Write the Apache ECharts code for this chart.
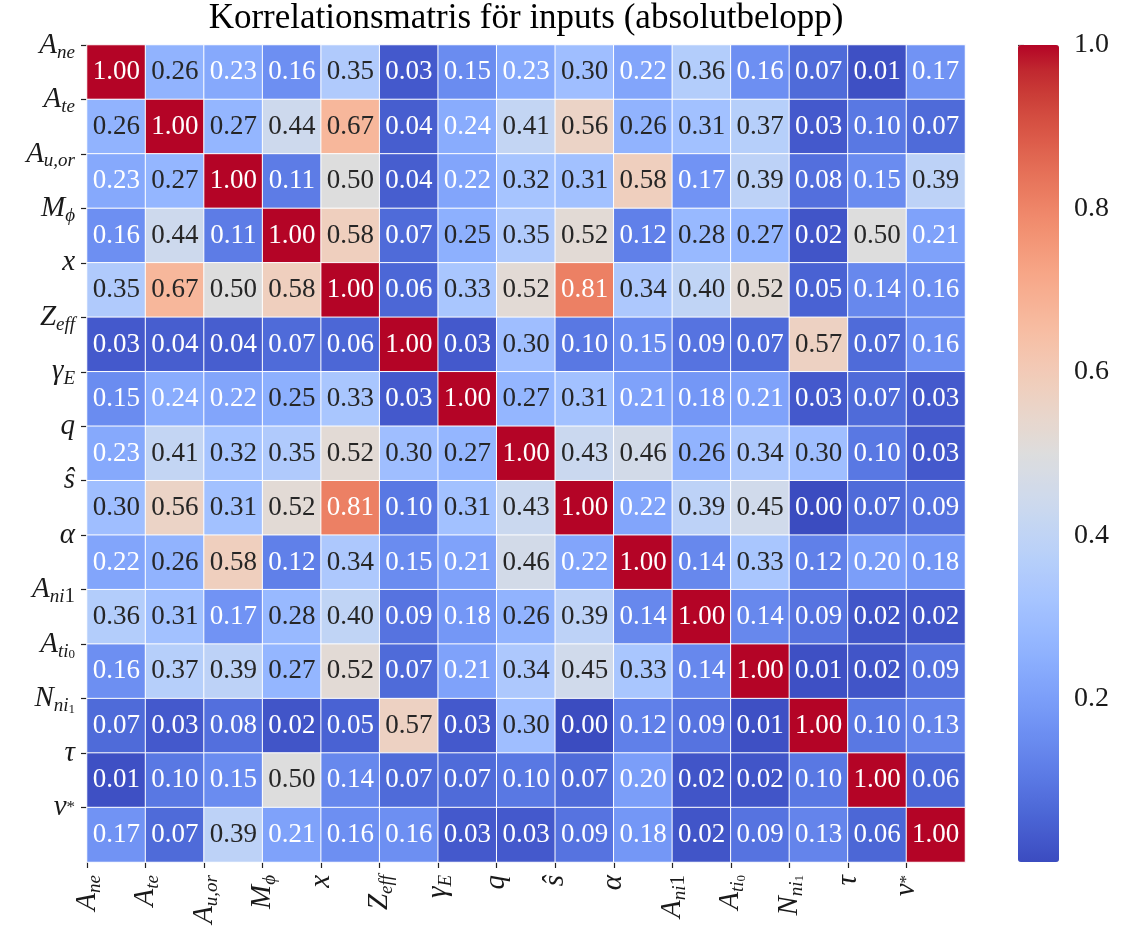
<!DOCTYPE html>
<html>
<head>
<meta charset="utf-8">
<script src="https://cdn.jsdelivr.net/npm/echarts@6/dist/echarts.min.js"></script>
<style>
html,body{margin:0;padding:0;background:#fff;}
#chart{width:1121px;height:937px;}
</style>
</head>
<body>
<div id="chart"></div>
<script>
// Variable tick labels (rich text: m = main symbol, s = subscript, ss = sub-subscript, su = upright subscript, sp = star)
const varLabels = [
  '{m|A}{s|ne}',
  '{m|A}{s|te}',
  '{m|A}{s|u,or}',
  '{m|M}{s|ϕ}',
  '{m|x}',
  '{m|Z}{s|eff}',
  '{m|γ}{s|E}',
  '{m|q}',
  '{m|ŝ}',
  '{m|α}',
  '{m|A}{s|ni}{su|1}',
  '{m|A}{s|ti}{ss|0}',
  '{m|N}{s|ni}{ss|1}',
  '{m|τ}',
  '{m|ν}{sp|*}'
];

// Correlation matrix rows (absolute values)
const rowAne   = [1.00,0.26,0.23,0.16,0.35,0.03,0.15,0.23,0.30,0.22,0.36,0.16,0.07,0.01,0.17];
const rowAte   = [0.26,1.00,0.27,0.44,0.67,0.04,0.24,0.41,0.56,0.26,0.31,0.37,0.03,0.10,0.07];
const rowAuor  = [0.23,0.27,1.00,0.11,0.50,0.04,0.22,0.32,0.31,0.58,0.17,0.39,0.08,0.15,0.39];
const rowMphi  = [0.16,0.44,0.11,1.00,0.58,0.07,0.25,0.35,0.52,0.12,0.28,0.27,0.02,0.50,0.21];
const rowX     = [0.35,0.67,0.50,0.58,1.00,0.06,0.33,0.52,0.81,0.34,0.40,0.52,0.05,0.14,0.16];
const rowZeff  = [0.03,0.04,0.04,0.07,0.06,1.00,0.03,0.30,0.10,0.15,0.09,0.07,0.57,0.07,0.16];
const rowGammaE= [0.15,0.24,0.22,0.25,0.33,0.03,1.00,0.27,0.31,0.21,0.18,0.21,0.03,0.07,0.03];
const rowQ     = [0.23,0.41,0.32,0.35,0.52,0.30,0.27,1.00,0.43,0.46,0.26,0.34,0.30,0.10,0.03];
const rowShat  = [0.30,0.56,0.31,0.52,0.81,0.10,0.31,0.43,1.00,0.22,0.39,0.45,0.00,0.07,0.09];
const rowAlpha = [0.22,0.26,0.58,0.12,0.34,0.15,0.21,0.46,0.22,1.00,0.14,0.33,0.12,0.20,0.18];
const rowAni1  = [0.36,0.31,0.17,0.28,0.40,0.09,0.18,0.26,0.39,0.14,1.00,0.14,0.09,0.02,0.02];
const rowAti0  = [0.16,0.37,0.39,0.27,0.52,0.07,0.21,0.34,0.45,0.33,0.14,1.00,0.01,0.02,0.09];
const rowNni1  = [0.07,0.03,0.08,0.02,0.05,0.57,0.03,0.30,0.00,0.12,0.09,0.01,1.00,0.10,0.13];
const rowTau   = [0.01,0.10,0.15,0.50,0.14,0.07,0.07,0.10,0.07,0.20,0.02,0.02,0.10,1.00,0.06];
const rowNu    = [0.17,0.07,0.39,0.21,0.16,0.16,0.03,0.03,0.09,0.18,0.02,0.09,0.13,0.06,1.00];

const matrixRows = [rowAne,rowAte,rowAuor,rowMphi,rowX,rowZeff,rowGammaE,rowQ,rowShat,rowAlpha,rowAni1,rowAti0,rowNni1,rowTau,rowNu];

const colorbarTicks = [0.2,0.4,0.6,0.8,1.0];

// coolwarm colormap
const coolwarm = ['#3b4cc0','#445acc','#4d68d7','#5775e1','#6282ea','#6c8ef1','#779af7','#82a5fb','#8db0fe','#98b9ff','#a3c2ff','#aec9fd','#b8d0f9','#c2d5f4','#ccd9ee','#d5dbe6','#dddddd','#e5d8d1','#ecd3c5','#f1ccb9','#f5c4ad','#f7bba0','#f7b194','#f7a687','#f49a7b','#f18d6f','#ec7f63','#e57058','#de604d','#d55042','#cb3e38','#c0282f','#b40426'];

const n = varLabels.length;
const cells = [];
for (let r = 0; r < n; r++) {
  for (let c = 0; c < n; c++) {
    const v = matrixRows[r][c];
    const light = (v < 0.245 || v > 0.75);
    cells.push({ value: [c, r, v], label: { color: light ? '#ffffff' : '#262626' } });
  }
}
const idx = varLabels.map((_, i) => i);

const serif = 'Liberation Serif';
const ink = '#1a1a1a';
const rich = {
  m:  { fontFamily: serif, fontStyle: 'italic', fontSize: 29, lineHeight: 34, color: ink, verticalAlign: 'middle' },
  s:  { fontFamily: serif, fontStyle: 'italic', fontSize: 19, lineHeight: 18, color: ink, verticalAlign: 'bottom' },
  su: { fontFamily: serif, fontStyle: 'normal', fontSize: 21, lineHeight: 19, color: ink, verticalAlign: 'bottom' },
  ss: { fontFamily: serif, fontStyle: 'normal', fontSize: 13, lineHeight: 10, color: ink, verticalAlign: 'bottom' },
  sp: { fontFamily: serif, fontStyle: 'normal', fontSize: 17, lineHeight: 24, color: ink, verticalAlign: 'middle' }
};

const L = 87, T = 45, W = 878, H = 817;

const chart = echarts.init(document.getElementById('chart'), null, { renderer: 'canvas' });
chart.setOption({
  animation: false,
  backgroundColor: '#ffffff',
  title: {
    text: 'Korrelationsmatris för inputs (absolutbelopp)',
    left: L + W / 2,
    top: 1,
    textAlign: 'center',
    padding: 0,
    textStyle: { fontFamily: serif, fontSize: 35, fontWeight: 'normal', color: '#000' }
  },
  grid: [
    { left: L, top: T, width: W, height: H },
    { left: 1018, top: T, width: 41, height: H }
  ],
  xAxis: [
    { type: 'category', gridIndex: 0, data: idx, show: false },
    {
      type: 'value', gridIndex: 0, min: 0, max: n, interval: 1, position: 'bottom',
      axisLine: { show: false }, splitLine: { show: false },
      axisTick: { show: true, length: 6, lineStyle: { color: '#222', width: 1.2 }, customValues: idx },
      axisLabel: {
        customValues: idx, rotate: 90, margin: 13,
        formatter: (v) => (v < n ? varLabels[v] : ''), rich: rich
      }
    },
    { type: 'value', gridIndex: 1, min: 0, max: 1, show: false }
  ],
  yAxis: [
    { type: 'category', gridIndex: 0, data: idx, inverse: true, show: false },
    {
      type: 'value', gridIndex: 0, min: 0, max: n, interval: 1, inverse: true, position: 'left',
      axisLine: { show: false }, splitLine: { show: false },
      axisTick: { show: true, length: 6, lineStyle: { color: '#222', width: 1.2 }, customValues: idx },
      axisLabel: {
        customValues: idx, margin: 12,
        formatter: (v) => (v < n ? varLabels[v] : ''), rich: rich
      }
    },
    {
      type: 'value', gridIndex: 1, min: 0, max: 1, position: 'right',
      axisLine: { show: false }, splitLine: { show: false },
      axisTick: { show: true, length: 6, lineStyle: { color: '#222', width: 1.2 }, customValues: colorbarTicks },
      axisLabel: {
        customValues: colorbarTicks, margin: 15,
        fontFamily: serif, fontSize: 28, color: ink,
        formatter: (v) => v.toFixed(1)
      }
    }
  ],
  visualMap: {
    type: 'continuous',
    min: 0, max: 1,
    seriesIndex: 0,
    calculable: false,
    orient: 'vertical',
    left: 1018, top: T,
    itemWidth: 41, itemHeight: H,
    padding: 0,
    text: null,
    showLabel: false,
    inRange: { color: coolwarm }
  },
  series: [{
    type: 'heatmap',
    xAxisIndex: 0, yAxisIndex: 0,
    data: cells,
    itemStyle: { borderColor: '#ffffff', borderWidth: 1 },
    label: {
      show: true,
      fontFamily: serif, fontSize: 27,
      formatter: (p) => p.value[2].toFixed(2)
    },
    emphasis: { disabled: true }
  }]
});
</script>
</body>
</html>
